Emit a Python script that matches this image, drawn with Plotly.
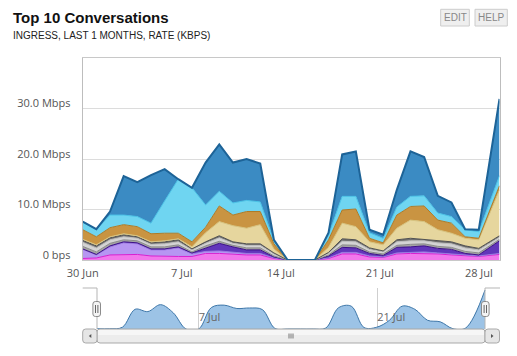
import plotly.graph_objects as go

# ---------------- data ----------------
times = ["2014-06-30 00:00", "2014-06-30 23:10", "2014-07-01 22:20", "2014-07-02 21:30",
         "2014-07-03 20:40", "2014-07-04 19:50", "2014-07-05 19:00", "2014-07-06 18:10",
         "2014-07-07 17:20", "2014-07-08 16:30", "2014-07-09 15:40", "2014-07-10 14:50",
         "2014-07-11 14:00", "2014-07-12 13:10", "2014-07-13 12:20", "2014-07-14 11:30",
         "2014-07-15 10:40", "2014-07-16 09:50", "2014-07-17 09:00", "2014-07-18 08:10",
         "2014-07-19 07:20", "2014-07-20 06:30", "2014-07-21 05:40", "2014-07-22 04:50",
         "2014-07-23 04:00", "2014-07-24 03:10", "2014-07-25 02:20", "2014-07-26 01:30",
         "2014-07-27 00:40", "2014-07-27 23:50", "2014-07-29 11:00"]

# Mbps per conversation (bottom of stack first)
magenta = [0.3, 0.4, 1.0, 1.1, 1.1, 0.8, 0.7, 0.7, 0.7, 1.3, 1.3, 1.1, 1.0, 1.0, 0.3, 0, 0, 0, 0.3, 1.2, 1.2, 0.6, 0.5, 1.2, 1.3, 1.3, 1.2, 1.0, 0.8, 0.7, 1.1]
lavender = [1.8, 0.6, 1.6, 2.3, 2.1, 1.2, 1.3, 1.7, 0.5, 0.4, 0.5, 0.4, 0.3, 0.3, 0.1, 0, 0, 0, 0.1, 0.3, 0.3, 0.2, 0.1, 0.2, 0.2, 0.3, 0.2, 0.2, 0.1, 0.1, 0.2]
indigo = [0.1, 0.1, 0.2, 0.2, 0.2, 0.2, 0.2, 0.2, 0.2, 0.7, 1.5, 1.1, 0.7, 0.7, 0.2, 0, 0, 0, 0.4, 1.0, 0.9, 0.5, 0.3, 1.1, 1.1, 1.2, 0.9, 0.9, 0.4, 0.2, 2.5]
gray = [0.5, 0.5, 0.5, 0.4, 0.4, 0.4, 0.4, 0.4, 0.2, 0.4, 0.4, 0.3, 0.4, 0.4, 0.2, 0, 0, 0, 0.2, 0.5, 0.5, 0.3, 0.3, 0.4, 0.5, 0.4, 0.4, 0.4, 0.4, 0.4, 0.3]
silver = [0.8, 0.8, 0.7, 0.6, 0.5, 0.5, 0.6, 0.6, 0.4, 0.5, 0.7, 0.4, 0.5, 0.5, 0.4, 0, 0, 0, 0.3, 0.7, 0.7, 0.5, 0.4, 0.7, 0.7, 0.6, 0.7, 0.7, 0.7, 0.6, 0.4]
darkgray = [0.4, 0.4, 0.4, 0.4, 0.3, 0.3, 0.4, 0.4, 0.2, 0.3, 0.4, 0.3, 0.3, 0.3, 0.2, 0, 0, 0, 0.2, 0.5, 0.4, 0.3, 0.2, 0.4, 0.5, 0.3, 0.4, 0.4, 0.4, 0.3, 0.3]
khaki = [0.2, 0.2, 0.2, 0.2, 0.2, 0.2, 0.2, 0.2, 0.4, 1.8, 2.8, 3.2, 3.1, 3.8, 0.8, 0, 0, 0, 1.0, 3.1, 2.6, 1.2, 1.2, 2.3, 3.6, 3.5, 2.2, 1.7, 1.5, 1.7, 9.1]
gold = [1.9, 1.6, 1.8, 1.8, 1.8, 1.6, 1.5, 1.1, 1.0, 1.1, 3.1, 2.1, 3.3, 2.6, 1.0, 0, 0, 0, 1.5, 2.6, 3.5, 0.7, 0.4, 2.6, 2.7, 3.1, 1.9, 2.0, 0.3, 0.3, 0.8]
cyan = [1.5, 1.4, 2.5, 1.9, 2.0, 2.1, 6.4, 10.7, 10.7, 4.4, 2.9, 2.4, 2.2, 1.9, 0.6, 0, 0, 0, 1.0, 2.7, 2.5, 1.1, 0.9, 1.6, 2.0, 2.0, 1.4, 1.3, 1.4, 1.3, 2.0]
blue = [0.1, 0.1, 0.7, 7.7, 6.8, 9.5, 6.3, 0.0, 0.0, 8.4, 9.3, 8.0, 8.2, 7.6, 0.2, 0, 0, 0, 0.4, 8.3, 8.9, 0.6, 0.7, 3.4, 8.9, 7.7, 3.4, 2.8, 0.1, 0.4, 15.2]

y_tick_vals = [0, 10, 20, 30]
y_tick_text = ["0 bps", "10.0 Mbps", "20.0 Mbps", "30.0 Mbps"]
x_tick_vals = ["2014-06-30", "2014-07-07", "2014-07-14", "2014-07-21", "2014-07-28"]
x_tick_text = ["30 Jun", "7 Jul", "14 Jul", "21 Jul", "28 Jul"]
nav_tick_vals = ["2014-07-07 17:20", "2014-07-21 06:45"]
nav_tick_text = ["7 Jul", "21 Jul"]

series = [
    ("Conversation 10", magenta, "#f277ec", "#d81fd0"),
    ("Conversation 9", lavender, "#b696f2", "#9a78e0"),
    ("Conversation 8", indigo, "#6236bb", "#3b0f86"),
    ("Conversation 7", gray, "#a4a4a4", "#8a8a8a"),
    ("Conversation 6", silver, "#d4d4d4", "#bdbdbd"),
    ("Conversation 5", darkgray, "#707070", "#505050"),
    ("Conversation 4", khaki, "#e6d69e", "#d6c27e"),
    ("Conversation 3", gold, "#c99442", "#ad7a26"),
    ("Conversation 2", cyan, "#6fd5f1", "#49c2e6"),
    ("Conversation 1", blue, "#3b8bc3", "#1d6397"),
]

W, H = 517, 356
def px(x):
    return x / W
def py(y):
    return 1 - y / H

fig = go.Figure()
for name, vals, fill, line in series:
    fig.add_trace(go.Scatter(
        x=times, y=vals, name=name, mode="lines", stackgroup="main",
        fillcolor=fill, line=dict(color=line, width=2 if name == "Conversation 1" else 1),
        xaxis="x", yaxis="y", hoverinfo="skip"))

# navigator series (top conversation, smoothed)
fig.add_trace(go.Scatter(
    x=times, y=blue, mode="lines", fill="tozeroy", fillcolor="#9cc3e6",
    line=dict(color="#3d76a8", width=1, shape="spline", smoothing=1.0),
    xaxis="x2", yaxis="y2", hoverinfo="skip", showlegend=False))

axis_font = dict(family="Open Sans", size=11, color="#555555")

fig.update_layout(
    width=W, height=H, margin=dict(l=0, r=0, t=0, b=0, autoexpand=False),
    paper_bgcolor="white", plot_bgcolor="white", showlegend=False,
    hovermode=False,
    xaxis=dict(domain=[px(82.7), px(499.5)], type="date", automargin=False,
               range=["2014-06-30 00:00", "2014-07-29 11:00"],
               tickmode="array", tickvals=x_tick_vals, ticktext=x_tick_text,
               tickfont=axis_font, ticks="outside", ticklen=3, tickcolor="rgba(0,0,0,0)",
               showgrid=False, zeroline=False, showline=True, linecolor="#c8c8c8",
               mirror=True, anchor="y", fixedrange=True),
    yaxis=dict(domain=[py(260), py(58)], range=[0, 40], automargin=False,
               tickmode="array", tickvals=y_tick_vals, ticktext=y_tick_text,
               tickfont=axis_font, ticks="outside", ticklen=9, tickcolor="rgba(0,0,0,0)",
               ticklabelshift=-5,
               showgrid=True, gridcolor="#dcdcdc", gridwidth=1, zeroline=False,
               showline=True, linecolor="#bdbdbd", mirror=True, anchor="x", fixedrange=True),
    xaxis2=dict(domain=[px(82.7), px(500)], type="date", automargin=False,
                range=["2014-06-28 21:56", "2014-07-30 14:20"],
                tickmode="array", tickvals=nav_tick_vals, ticktext=nav_tick_text,
                ticklabelposition="inside right", tickfont=dict(family="Open Sans", size=11, color="#666666"),
                showgrid=True, gridcolor="#cfcfcf", zeroline=False, showline=False,
                ticks="", anchor="y2", fixedrange=True),
    yaxis2=dict(domain=[py(329), py(288)], range=[0, 16], visible=False, automargin=False,
                anchor="x2", fixedrange=True),
)

shapes = []
# navigator outline
shapes.append(dict(type="line", xref="paper", yref="paper", x0=px(82.7), x1=px(97), y0=py(288), y1=py(288), line=dict(color="#b5b5b5", width=1)))
shapes.append(dict(type="line", xref="paper", yref="paper", x0=px(485), x1=px(500), y0=py(288), y1=py(288), line=dict(color="#b5b5b5", width=1)))
shapes.append(dict(type="line", xref="paper", yref="paper", x0=px(97), x1=px(97), y0=py(288), y1=py(329), line=dict(color="#b5b5b5", width=1)))
shapes.append(dict(type="line", xref="paper", yref="paper", x0=px(485), x1=px(485), y0=py(288), y1=py(329), line=dict(color="#b5b5b5", width=1)))

def rounded(x0, y0, x1, y1, r):
    # path in paper coordinates, input in pixels
    pts = [
        f"M {px(x0 + r)} {py(y0)}",
        f"L {px(x1 - r)} {py(y0)}",
        f"Q {px(x1)} {py(y0)} {px(x1)} {py(y0 + r)}",
        f"L {px(x1)} {py(y1 - r)}",
        f"Q {px(x1)} {py(y1)} {px(x1 - r)} {py(y1)}",
        f"L {px(x0 + r)} {py(y1)}",
        f"Q {px(x0)} {py(y1)} {px(x0)} {py(y1 - r)}",
        f"L {px(x0)} {py(y0 + r)}",
        f"Q {px(x0)} {py(y0)} {px(x0 + r)} {py(y0)}",
        "Z",
    ]
    return " ".join(pts)

# scrollbar
shapes.append(dict(type="path", xref="paper", yref="paper", path=rounded(97, 329, 485, 343, 3),
                   fillcolor="#ececec", line=dict(color="#a9a9a9", width=1)))
shapes.append(dict(type="rect", xref="paper", yref="paper", x0=px(98), x1=px(484), y0=py(330), y1=py(335),
                   fillcolor="#f6f6f6", line=dict(width=0)))
shapes.append(dict(type="path", xref="paper", yref="paper", path=rounded(82.7, 329, 97, 343, 3),
                   fillcolor="#e6e6e6", line=dict(color="#a9a9a9", width=1)))
shapes.append(dict(type="path", xref="paper", yref="paper", path=rounded(485, 329, 499.5, 343, 3),
                   fillcolor="#e6e6e6", line=dict(color="#a9a9a9", width=1)))
# arrows
shapes.append(dict(type="path", xref="paper", yref="paper",
                   path=f"M {px(88.8)} {py(336)} L {px(91.3)} {py(334)} L {px(91.3)} {py(338)} Z",
                   fillcolor="#555555", line=dict(width=0)))
shapes.append(dict(type="path", xref="paper", yref="paper",
                   path=f"M {px(493.5)} {py(336)} L {px(491)} {py(334)} L {px(491)} {py(338)} Z",
                   fillcolor="#555555", line=dict(width=0)))
# grip
for gx in [289, 291, 293]:
    shapes.append(dict(type="line", xref="paper", yref="paper", x0=px(gx), x1=px(gx), y0=py(333.5), y1=py(338.5),
                       line=dict(color="#777777", width=1)))

# navigator handles
for hx in [96.7, 485.3]:
    shapes.append(dict(type="path", xref="paper", yref="paper", path=rounded(hx - 3.8, 301.5, hx + 3.8, 316.5, 2.5),
                       fillcolor="#f4f4f4", line=dict(color="#8c8c8c", width=1)))
    for dx in [-1.2, 1.2]:
        shapes.append(dict(type="line", xref="paper", yref="paper", x0=px(hx + dx), x1=px(hx + dx),
                           y0=py(305), y1=py(313), line=dict(color="#666666", width=1)))

# EDIT / HELP buttons
shapes.append(dict(type="rect", xref="paper", yref="paper", x0=px(440.7), x1=px(469.3), y0=py(26), y1=py(9.3),
                   fillcolor="#efefef", line=dict(color="#cccccc", width=1)))
shapes.append(dict(type="rect", xref="paper", yref="paper", x0=px(475), x1=px(507.3), y0=py(26), y1=py(9.3),
                   fillcolor="#efefef", line=dict(color="#cccccc", width=1)))

annotations = [
    dict(text="Top 10 Conversations", x=px(10.5), y=py(17.5), xref="paper", yref="paper",
         xanchor="left", yanchor="middle", showarrow=False,
         font=dict(family="Liberation Sans", size=15, color="#111111", weight="bold")),
    dict(text="INGRESS, LAST 1 MONTHS, RATE (KBPS)", x=px(10.5), y=py(35.5), xref="paper", yref="paper",
         xanchor="left", yanchor="middle", showarrow=False,
         font=dict(family="Liberation Sans", size=10, color="#222222")),
    dict(text="EDIT", x=px(455), y=py(17.8), xref="paper", yref="paper", xanchor="center", yanchor="middle",
         showarrow=False, font=dict(family="Liberation Sans", size=10, color="#888888")),
    dict(text="HELP", x=px(491.2), y=py(17.8), xref="paper", yref="paper", xanchor="center", yanchor="middle",
         showarrow=False, font=dict(family="Liberation Sans", size=10, color="#888888")),
]
fig.update_layout(shapes=shapes, annotations=annotations)

fig.write_html("out.html", config={"displayModeBar": False},
               post_script="document.body.style.margin='0px';document.body.style.padding='0px';"
                           "document.documentElement.style.overflow='hidden';")
